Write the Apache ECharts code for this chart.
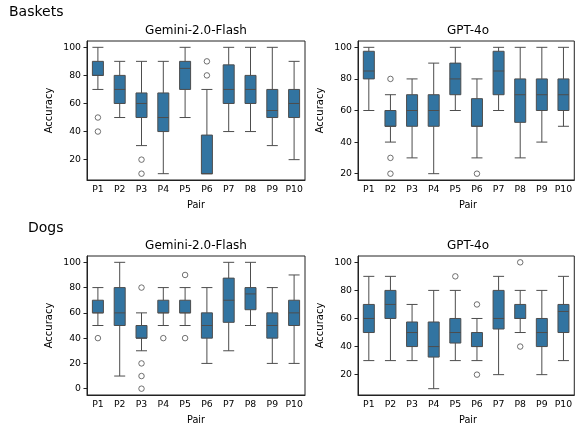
<!DOCTYPE html>
<html>
<head>
<meta charset="utf-8">
<script src="https://cdn.jsdelivr.net/npm/echarts@6/dist/echarts.min.js"></script>
<style>
  html, body { margin: 0; padding: 0; background: #fff; }
  #chart { width: 575px; height: 425px; }
</style>
</head>
<body>
<div id="chart"></div>
<script>
// categories
const pairs = ['P1', 'P2', 'P3', 'P4', 'P5', 'P6', 'P7', 'P8', 'P9', 'P10'];

// boxes: [low whisker, Q1, median, Q3, high whisker]
const basketsGemini = [
  [70, 80, 80, 90, 100], [50, 60, 70, 80, 90], [30, 50, 60, 67.5, 90], [10, 40, 50, 67.5, 90],
  [50, 70, 85, 90, 100], [10, 10, 10, 37.5, 70], [40, 60, 70, 87.5, 100], [40, 60, 70, 80, 100],
  [30, 50, 55, 70, 100], [20, 50, 60, 70, 90]
];
const basketsGeminiOutliers = [['P1', 50], ['P1', 40], ['P3', 20], ['P3', 10], ['P6', 90], ['P6', 80]];

const basketsGpt = [
  [60, 80, 85, 97.5, 100], [40, 50, 50, 60, 70], [30, 50, 60, 70, 80], [20, 50, 60, 70, 90],
  [60, 70, 80, 90, 100], [30, 50, 50, 67.5, 80], [60, 70, 85, 97.5, 100], [30, 52.5, 70, 80, 100],
  [40, 60, 70, 80, 100], [50, 60, 70, 80, 100]
];
const basketsGptOutliers = [['P2', 80], ['P2', 30], ['P2', 20], ['P6', 20]];

const dogsGemini = [
  [50, 60, 60, 70, 80], [10, 50, 60, 80, 100], [30, 40, 40, 50, 60], [50, 60, 60, 70, 80],
  [50, 60, 60, 70, 80], [20, 40, 50, 60, 80], [30, 52.5, 70, 87.5, 100], [50, 62.5, 75, 80, 100],
  [20, 40, 50, 60, 80], [20, 50, 60, 70, 90]
];
const dogsGeminiOutliers = [['P1', 40], ['P3', 80], ['P3', 20], ['P3', 10], ['P3', 0],
  ['P4', 40], ['P5', 90], ['P5', 40]];

const dogsGpt = [
  [30, 50, 60, 70, 90], [30, 60, 70, 80, 90], [30, 40, 50, 57.5, 70], [10, 32.5, 40, 57.5, 80],
  [30, 42.5, 50, 60, 80], [30, 40, 40, 50, 60], [20, 52.5, 60, 80, 90], [50, 60, 60, 70, 80],
  [20, 40, 50, 60, 80], [30, 50, 65, 70, 90]
];
const dogsGptOutliers = [['P5', 90], ['P6', 70], ['P6', 20], ['P8', 100], ['P8', 40]];

const ticksFrom20 = [20, 40, 60, 80, 100];
const ticksFrom0 = [0, 20, 40, 60, 80, 100];

const FONT = 'DejaVu Sans';
const BOX = '#3274a1';
const LINE = '#4d4d4d';

const panels = [
  { title: 'Gemini-2.0-Flash', boxes: basketsGemini, outliers: basketsGeminiOutliers,
    min: 5.5, max: 104.5, ticks: ticksFrom20, left: 87, top: 41, width: 218 },
  { title: 'GPT-4o', boxes: basketsGpt, outliers: basketsGptOutliers,
    min: 16, max: 104, ticks: ticksFrom20, left: 358, top: 41, width: 220 },
  { title: 'Gemini-2.0-Flash', boxes: dogsGemini, outliers: dogsGeminiOutliers,
    min: -5, max: 105, ticks: ticksFrom0, left: 87, top: 256, width: 218 },
  { title: 'GPT-4o', boxes: dogsGpt, outliers: dogsGptOutliers,
    min: 5.5, max: 104.5, ticks: ticksFrom20, left: 358, top: 256, width: 220 }
];
const H = 139;

const grid = [], xAxis = [], yAxis = [], series = [], texts = [];

function label(text, x, y, size, rot, align) {
  texts.push({
    type: 'text', x: x, y: y, rotation: rot || 0,
    style: { text: text, font: size + 'px "' + FONT + '"', fill: '#000',
             align: align || 'center', verticalAlign: 'middle' }
  });
}

panels.forEach(function (p, i) {
  grid.push({ left: p.left, top: p.top, width: p.width, height: H,
              show: true, borderColor: '#222', borderWidth: 1, backgroundColor: 'transparent' });
  xAxis.push({
    gridIndex: i, type: 'category', data: pairs, boundaryGap: true,
    axisLine: { onZero: false, lineStyle: { color: '#222', width: 1 } },
    axisTick: { alignWithLabel: true, length: 3.5, lineStyle: { color: '#222' } },
    axisLabel: { color: '#000', fontFamily: FONT, fontSize: 9.3, margin: 5, interval: 0 },
    splitLine: { show: false }
  });
  yAxis.push({
    gridIndex: i, type: 'value', min: p.min, max: p.max,
    axisLine: { show: true, lineStyle: { color: '#222', width: 1 } },
    axisTick: { show: true, length: 3.5, customValues: p.ticks, lineStyle: { color: '#222' } },
    axisLabel: { color: '#000', fontFamily: FONT, fontSize: 9.3, margin: 6, customValues: p.ticks },
    splitLine: { show: false }
  });
  series.push({
    type: 'boxplot', xAxisIndex: i, yAxisIndex: i, data: p.boxes,
    boxWidth: [11, 11],
    itemStyle: { color: BOX, borderColor: LINE, borderWidth: 1 },
    emphasis: { disabled: true }
  });
  series.push({
    type: 'scatter', xAxisIndex: i, yAxisIndex: i, data: p.outliers,
    symbol: 'circle', symbolSize: 5.5,
    itemStyle: { color: '#fff', borderColor: LINE, borderWidth: 1 },
    emphasis: { disabled: true }
  });
  const cx = p.left + p.width / 2;
  label(p.title, cx, p.top - 10.5, 12);
  label('Accuracy', p.left - 37.5, p.top + H / 2, 10, Math.PI / 2);
  label('Pair', cx, p.top + H + 25, 9.7);
});

label('Baskets', 9, 12.5, 14, 0, 'left');
label('Dogs', 28, 228, 14, 0, 'left');

const chart = echarts.init(document.getElementById('chart'), null, { renderer: 'canvas' });
chart.setOption({
  animation: false,
  backgroundColor: '#fff',
  grid: grid,
  xAxis: xAxis,
  yAxis: yAxis,
  series: series,
  graphic: texts
});
</script>
</body>
</html>
